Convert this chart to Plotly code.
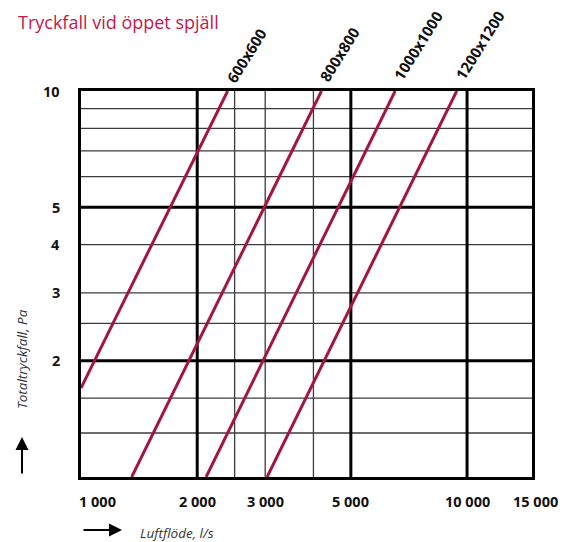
import math
import plotly.graph_objects as go

# ---------------- data ----------------
sizes = ["600x600", "800x800", "1000x1000", "1200x1200"]
flow_start = [1000, 1353, 2109, 3034]     # l/s at lower/left end of each line
dp_start = [1.70, 1.0, 1.0, 1.0]          # Pa
flow_end = [2398, 4197, 6512, 9402]       # l/s at upper end
dp_end = [10, 10, 10, 10]                 # Pa

x_tick_vals = [1000, 2000, 3000, 5000, 10000, 15000]
x_tick_text = ["1 000", "2 000", "3 000", "5 000", "10 000", "15 000"]
y_tick_vals = [2, 3, 4, 5, 10]
y_tick_text = ["2", "3", "4", "5", "10"]

grid_major_x = [2000, 5000, 10000]
grid_minor_x = [2500, 3000, 4000]
grid_major_y = [2, 5]
grid_minor_y = [1.3, 1.6, 2.5, 3, 4, 6, 7, 8, 9]

x_min, x_max = 1000, 14730
y_min, y_max = 1, 10

# ---------------- style ----------------
RED = "#A3173E"
TITLE_RED = "#C4174B"
FONT = "Open Sans"
label_shift = [(19, 36), (18, 37), (23, 46), (23, 46)]
W, H = 562, 534   # page body has an 8px margin
OFF = 8

fig = go.Figure()


def grid_trace(xs, ys, width, color):
    return go.Scatter(x=xs, y=ys, mode="lines", hoverinfo="skip", showlegend=False,
                      line=dict(color=color, width=width))


def vlines(vals):
    xs, ys = [], []
    for v in vals:
        xs += [v, v, None]
        ys += [y_min, y_max, None]
    return xs, ys


def hlines(vals):
    xs, ys = [], []
    for v in vals:
        xs += [x_min, x_max, None]
        ys += [v, v, None]
    return xs, ys


fig.add_trace(grid_trace(*vlines(grid_minor_x), 1.3, "#3c3c3c"))
fig.add_trace(grid_trace(*hlines(grid_minor_y), 1.3, "#3c3c3c"))
fig.add_trace(grid_trace(*vlines(grid_major_x), 3, "#000000"))
fig.add_trace(grid_trace(*hlines(grid_major_y), 3, "#000000"))

for i, name in enumerate(sizes):
    fig.add_trace(go.Scatter(
        x=[flow_start[i], flow_end[i]], y=[dp_start[i], dp_end[i]],
        mode="lines", name=name, showlegend=False,
        line=dict(color=RED, width=3)))
    fig.add_annotation(
        x=math.log10(flow_end[i]), y=math.log10(dp_end[i]), xref="x", yref="y",
        text=name, showarrow=False, textangle=-58,
        xanchor="center", yanchor="middle",
        xshift=label_shift[i][0], yshift=label_shift[i][1],
        font=dict(family=FONT, size=15, color="#111111", weight="bold"))

# x tick labels (paper coordinates so labels beyond the axis range still show)
lx0, lx1 = math.log10(x_min), math.log10(x_max)
for v, t in zip(x_tick_vals, x_tick_text):
    fig.add_annotation(
        x=(math.log10(v) - lx0) / (lx1 - lx0), y=-0.0622, xref="paper", yref="paper",
        text=t, showarrow=False, xanchor="center", yanchor="middle",
        xshift=16 if v == x_min else 0,
        font=dict(family=FONT, size=14.5, color="#111111", weight="bold"))

# y tick labels
for v, t in zip(y_tick_vals, y_tick_text):
    fig.add_annotation(
        x=0, y=math.log10(v), xref="paper", yref="y", text=t,
        showarrow=False, xanchor="right", yanchor="middle", xshift=-19,
        font=dict(family=FONT, size=14.5, color="#111111", weight="bold"))

# axis titles
fig.add_annotation(
    x=0.1264, y=-0.145, xref="paper", yref="paper", text="Luftflöde, l/s",
    showarrow=False, xanchor="left", yanchor="middle",
    font=dict(family=FONT, size=13.5, color="#333333", style="italic"))
fig.add_annotation(
    x=-0.1308, y=0.3057, xref="paper", yref="paper", text="Totaltryckfall, Pa",
    showarrow=False, textangle=-90, xanchor="center", yanchor="middle",
    font=dict(family=FONT, size=13.5, color="#333333", style="italic"))

# arrows
fig.add_annotation(
    x=0.0909, y=-0.137, xref="paper", yref="paper", text="",
    showarrow=True, ax=-40, ay=0, arrowhead=2, arrowsize=1.3, arrowwidth=2,
    arrowcolor="#000000")
fig.add_annotation(
    x=-0.1308, y=0.1036, xref="paper", yref="paper", text="",
    showarrow=True, ax=0, ay=38, arrowhead=2, arrowsize=1.3, arrowwidth=2,
    arrowcolor="#000000")

fig.update_layout(
    width=W, height=H,
    margin=dict(l=81 - OFF, r=38, t=91 - OFF, b=65, pad=0),
    paper_bgcolor="white", plot_bgcolor="white",
    title=dict(text="Tryckfall vid öppet spjäll", xref="container", yref="container",
               x=(18 - OFF) / W, y=1 - (23 - OFF) / H, xanchor="left", yanchor="middle",
               font=dict(family=FONT, size=18, color=TITLE_RED)),
    xaxis=dict(type="log", range=[lx0, lx1],
               showgrid=False, zeroline=False, showticklabels=False, ticks="",
               showline=True, mirror=True, linecolor="#000000", linewidth=3),
    yaxis=dict(type="log", range=[math.log10(y_min), math.log10(y_max)],
               showgrid=False, zeroline=False, showticklabels=False, ticks="",
               showline=True, mirror=True, linecolor="#000000", linewidth=3),
)

fig.write_html("out.html")
